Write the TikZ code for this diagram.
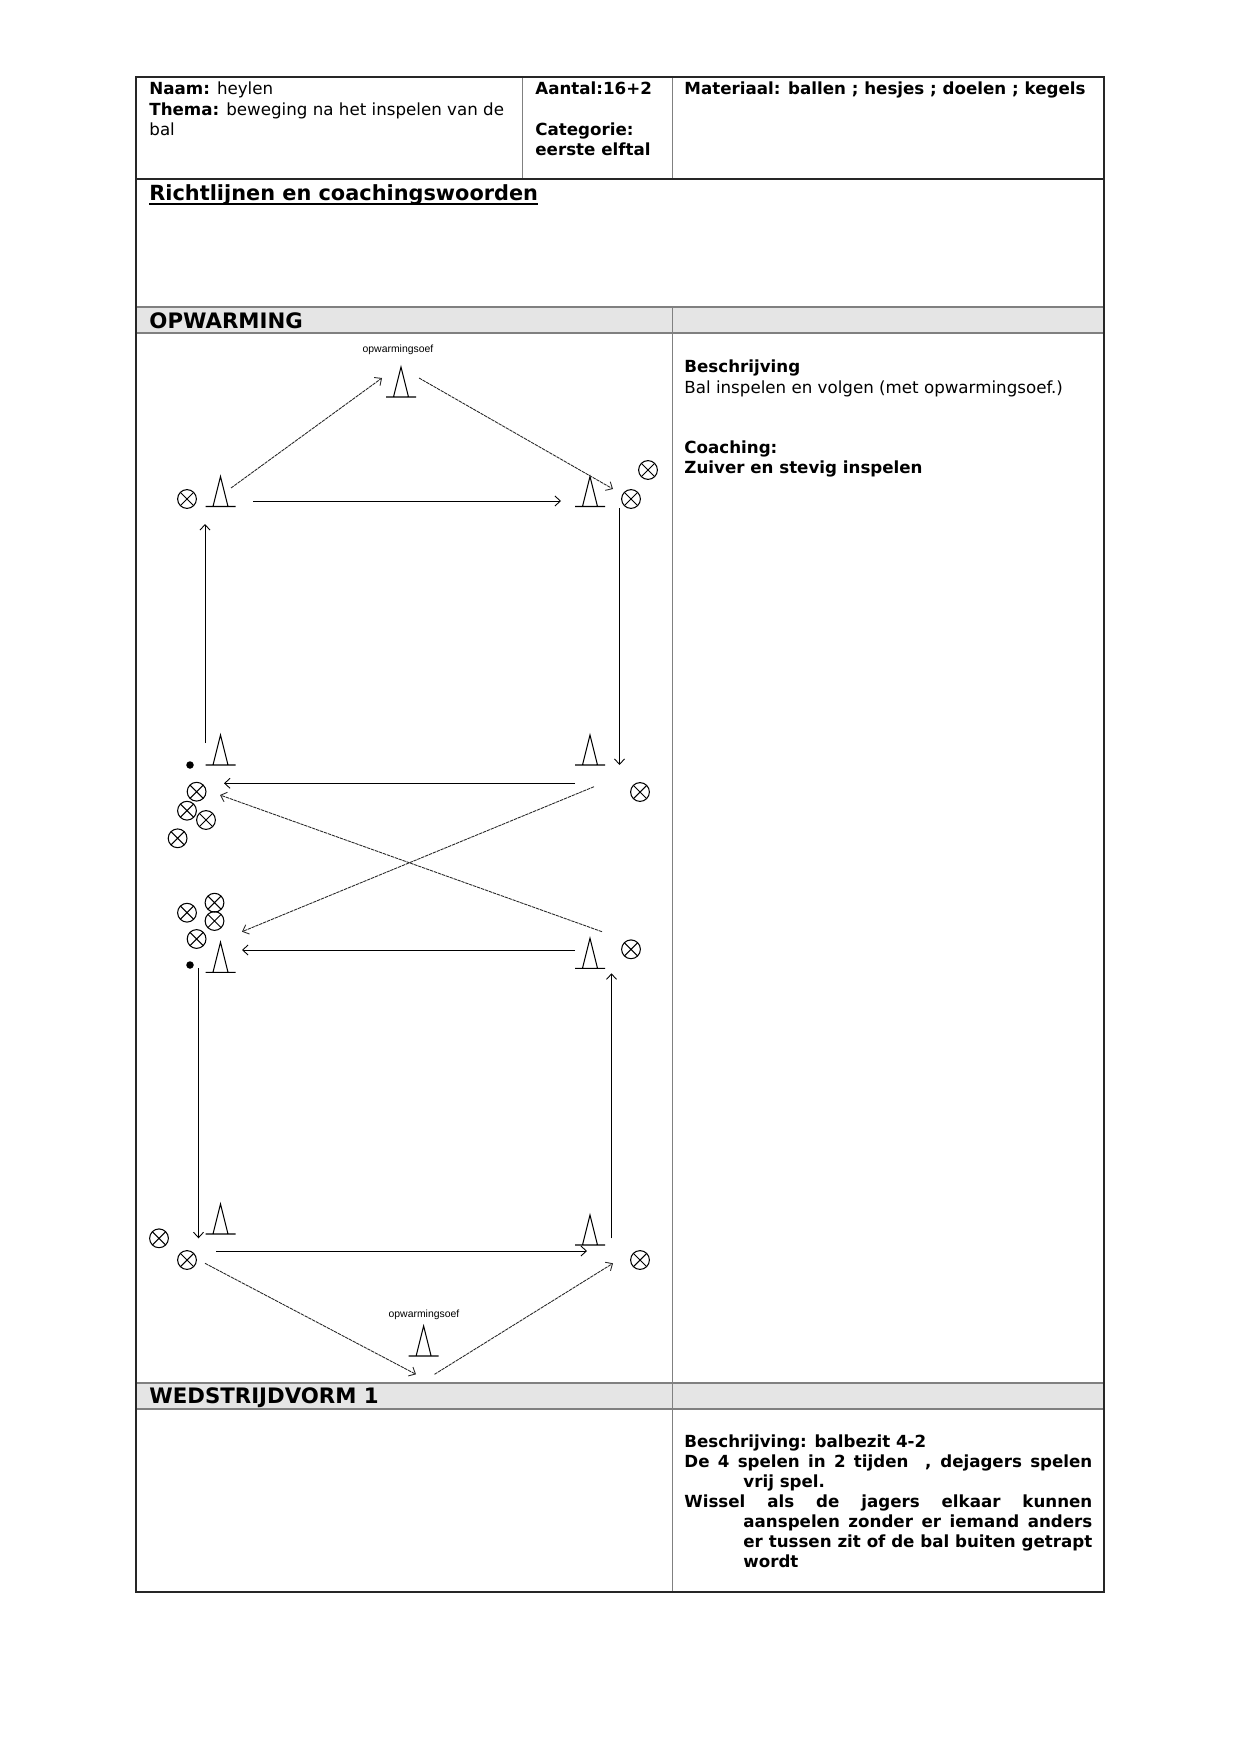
\documentclass[tikz,border=0pt]{standalone}
\usepackage{fontspec}
\setmainfont{DejaVu Sans}
\newfontfamily\lblfont{Liberation Sans}
\usetikzlibrary{arrows.meta}
\begin{document}
\begin{tikzpicture}[x=0.4795pt,y=-0.4795pt,
 txt/.style={anchor=base west, inner sep=0pt, font=\fontsize{8}{9.65}\selectfont},
 btxt/.style={anchor=base west, inner sep=0pt, font=\fontsize{8}{9.65}\selectfont\bfseries},
 ttl/.style={anchor=base west, inner sep=0pt, font=\fontsize{10.2}{12}\selectfont\bfseries},
 lbl/.style={inner sep=0pt, font=\lblfont\fontsize{5}{6}\selectfont},
 player/.style={circle, draw, line width=0.5pt, minimum size=9pt, inner sep=0pt,
   path picture={\draw[line width=0.5pt] (path picture bounding box.north west)--(path picture bounding box.south east)
   (path picture bounding box.north east)--(path picture bounding box.south west);}},
 ball/.style={circle, fill=black, minimum size=3.6pt, inner sep=0pt},
 pass/.style={line width=0.42pt, -{Straight Barb[length=2.6pt,width=4.8pt]}},
 run/.style={line width=0.42pt, draw=black!85, dash pattern=on 1.6pt off 0.4pt, -{Straight Barb[length=2.6pt,width=4.8pt]}},
 cone/.pic={\draw[line width=0.5pt] (-15,0)--(15,0) (-7.5,0)--(0,-30)--(7.5,0);},
 outer/.style={line width=0.6pt, draw=black!85},
 inner/.style={line width=0.6pt, draw=black!50},
 bar/.style={fill=black!10}
]
\useasboundingbox (0,0) rectangle (1241,1754);
% grey bars
\fill[bar] (136,307) rectangle (1104,333);
\fill[bar] (136,1383) rectangle (1104,1409);
% table lines
\draw[inner] (522.5,77) -- (522.5,179);
\draw[inner] (672.5,77) -- (672.5,179);
\draw[inner] (672.5,307) -- (672.5,1592);
\draw[inner] (136,307) -- (1104,307);
\draw[inner] (136,333) -- (1104,333);
\draw[inner] (136,1383) -- (1104,1383);
\draw[inner] (136,1409) -- (1104,1409);
\draw[outer] (136,179) -- (1104,179);
\draw[outer] (136,77) rectangle (1104,1592);

% header texts
\node[txt] (naam) at (149,95) {\textbf{Naam:} heylen};
\node[txt] (thema) at (149,115.1) {\textbf{Thema:} beweging na het inspelen van de};
\node[txt] (bal) at (149,135.2) {bal};
\node[btxt] (aantal) at (535,95) {Aantal:16+2};
\node[btxt] (cat) at (535,135.2) {Categorie:};
\node[btxt] (elftal) at (535,155.3) {eerste elftal};
\node[btxt] (mat) at (684,95) {Materiaal: ballen ; hesjes ; doelen ; kegels};
\node[ttl, font=\fontsize{10}{12}\selectfont\bfseries] (richt) at (149,201) {Richtlijnen en coachingswoorden};
\draw[line width=0.8pt] ([yshift=-1.3pt]richt.base west) -- ([yshift=-1.3pt]richt.base east);
\node[ttl] (opw) at (149,329) {OPWARMING};
\node[ttl] (wed) at (149,1403) {WEDSTRIJDVORM 1};

% right column texts
\node[btxt] (besch1) at (684,373) {Beschrijving};
\node[txt] (besch1t) at (684,393.1) {Bal inspelen en volgen (met opwarmingsoef.)};
\node[btxt] (coach) at (684,453.4) {Coaching:};
\node[btxt] (coacht) at (684,473.5) {Zuiver en stevig inspelen};

\node[btxt] (b2l1) at (684,1447) {Beschrijving: balbezit 4-2};
\node[btxt] (b2l2) at (684,1467.1) {\makebox[195.6pt][s]{De 4 spelen in 2 tijden\ \ , dejagers spelen}};
\node[btxt] (b2l3) at (743,1487.2) {vrij spel.};
\node[btxt] (b2l4) at (684,1507.3) {\makebox[195.6pt][s]{Wissel als de jagers elkaar kunnen}};
\node[btxt] (b2l5) at (743,1527.4) {\makebox[167.3pt][s]{aanspelen zonder er iemand anders}};
\node[btxt] (b2l6) at (743,1547.5) {\makebox[167.3pt][s]{er tussen zit of de bal buiten getrapt}};
\node[btxt] (b2l7) at (743,1567.6) {wordt};

% ---- diagram ----
\node[lbl] (lblT) at (398,350) {opwarmingsoef};
\node[lbl] (lblB) at (424,1315) {opwarmingsoef};

% cones
\pic at (401,397) {cone};
\pic at (220.5,506.5) {cone};
\pic at (590,506.5) {cone};
\pic at (220.5,765) {cone};
\pic at (590,765) {cone};
\pic at (220.5,972.3) {cone};
\pic at (590,968.3) {cone};
\pic at (220.5,1234) {cone};
\pic at (590,1245) {cone};
\pic at (423.6,1356) {cone};

% players
\node[player] (pL1) at (187,499) {};
\node[player] (pR1) at (631,499) {};
\node[player] (pR1b) at (648,470) {};
\node[player] (pR2) at (640,792) {};
\node[player] (pA1) at (196.6,791.7) {};
\node[player] (pA2) at (187,810.7) {};
\node[player] (pA3) at (206,820) {};
\node[player] (pA4) at (177.6,838.3) {};
\node[player] (pB1) at (187,912.7) {};
\node[player] (pB2) at (214.5,902.7) {};
\node[player] (pB3) at (214.5,921) {};
\node[player] (pB4) at (196.6,939) {};
\node[player] (pR3) at (631,949.3) {};
\node[player] (pL4a) at (159,1238.3) {};
\node[player] (pL4b) at (187,1260) {};
\node[player] (pR4) at (640,1260) {};
% balls
\node[ball] (ballA) at (190,765) {};
\node[ball] (ballB) at (190,965) {};

% arrow end points
\coordinate (h1s) at (253,501);   \coordinate (h1e) at (561,501);
\coordinate (d1s) at (231,488);   \coordinate (d1e) at (382,378);
\coordinate (d2s) at (419,378);   \coordinate (d2e) at (613,489);
\coordinate (v1s) at (205,743);   \coordinate (v1e) at (205,524);
\coordinate (v2s) at (619.5,508); \coordinate (v2e) at (619.5,765);
\coordinate (h2s) at (575,783.3); \coordinate (h2e) at (224,783.3);
\coordinate (d3s) at (594,786.7); \coordinate (d3e) at (242,931.7);
\coordinate (d4s) at (602,931.7); \coordinate (d4e) at (220,795);
\coordinate (h3s) at (575,950);   \coordinate (h3e) at (242,950);
\coordinate (v3s) at (198.5,968.3); \coordinate (v3e) at (198.5,1238.3);
\coordinate (v4s) at (611.5,1238.3);\coordinate (v4e) at (611.5,973.3);
\coordinate (h4s) at (216,1251);  \coordinate (h4e) at (587,1251);
\coordinate (d5s) at (205,1263.3);  \coordinate (d5e) at (416,1374.3);
\coordinate (d6s) at (434.5,1374.3);\coordinate (d6e) at (613,1263.3);

\draw[pass] (h1s) -- (h1e);
\draw[run] (d1s) -- (d1e);
\draw[run] (d2s) -- (d2e);
\draw[pass] (v1s) -- (v1e);
\draw[pass] (v2s) -- (v2e);
\draw[pass] (h2s) -- (h2e);
\draw[run] (d3s) -- (d3e);
\draw[run] (d4s) -- (d4e);
\draw[pass] (h3s) -- (h3e);
\draw[pass] (v3s) -- (v3e);
\draw[pass] (v4s) -- (v4e);
\draw[pass] (h4s) -- (h4e);
\draw[run] (d5s) -- (d5e);
\draw[run] (d6s) -- (d6e);
\end{tikzpicture}
\end{document}
